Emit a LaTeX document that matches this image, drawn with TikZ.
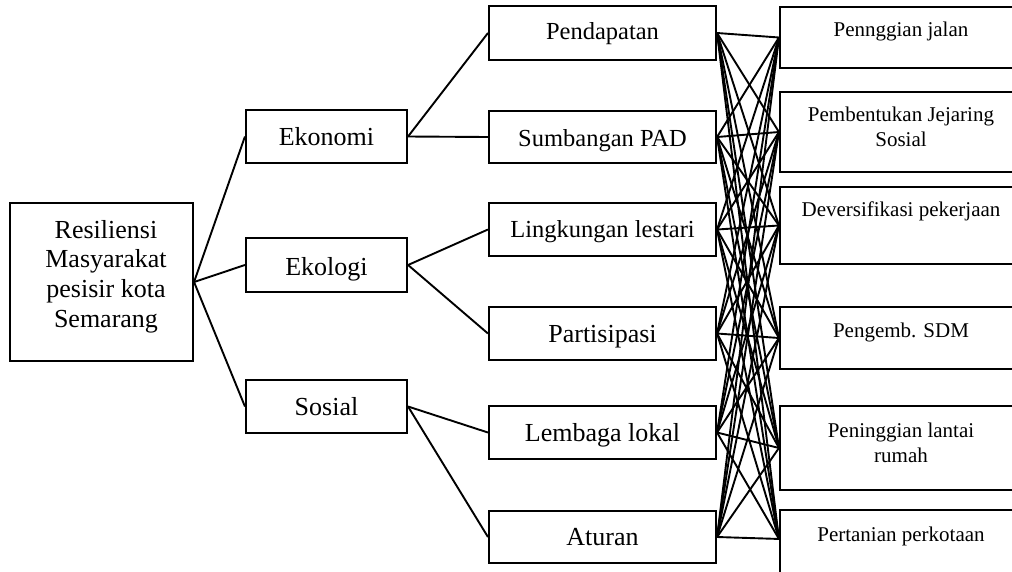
\documentclass[tikz,border=0pt]{standalone}
\usepackage{fontspec}
\setmainfont{Liberation Serif}
\begin{document}
\begin{tikzpicture}[x=1pt,y=-1pt,
  box/.style={draw,line width=2.1pt,inner sep=0pt,rectangle},
  lbl/.style={anchor=base,inner sep=0pt},
  wire/.style={line width=1.9pt},
  big/.style={font=\fontsize{26}{30}\selectfont},
  mid/.style={font=\fontsize{24.5}{28}\selectfont},
  small/.style={font=\fontsize{21}{25}\selectfont}
]
\clip (0,0) rectangle (1012,571);

% root
\node[box,minimum width=183pt,minimum height=158pt] (root) at (101.5,282) {};
\node[lbl,big] (rt1) at (106,238) {Resiliensi};
\node[lbl,big] (rt2) at (106,267.7) {Masyarakat};
\node[lbl,big] (rt3) at (106,297.4) {pesisir kota};
\node[lbl,big] (rt4) at (106,327) {Semarang};

% dimensions
\node[box,minimum width=161pt,minimum height=53pt] (eko) at (326.5,136.5) {};
\node[box,minimum width=161pt,minimum height=54pt] (ekl) at (326.5,265) {};
\node[box,minimum width=161pt,minimum height=53pt] (sos) at (326.5,406.5) {};
\node[lbl,big] (tEko) at (326.5,145.7) {Ekonomi};
\node[lbl,big] (tEkl) at (326.5,275) {Ekologi};
\node[lbl,big] (tSos) at (326.5,415) {Sosial};

% indicators
\node[box,minimum width=227pt,minimum height=54pt] (p1) at (602.5,33) {};
\node[box,minimum width=227pt,minimum height=52pt] (p2) at (602.5,137) {};
\node[box,minimum width=227pt,minimum height=53pt] (p3) at (602.5,229.5) {};
\node[box,minimum width=227pt,minimum height=53pt] (p4) at (602.5,333.5) {};
\node[box,minimum width=227pt,minimum height=53pt] (p5) at (602.5,432.5) {};
\node[box,minimum width=227pt,minimum height=52pt] (p6) at (602.5,537) {};
\node[lbl,mid] (tp1) at (602.5,39.5) {Pendapatan};
\node[lbl,mid] (tp2) at (602.5,146.5) {Sumbangan PAD};
\node[lbl,mid] (tp3) at (602.5,237) {Lingkungan lestari};
\node[lbl,big] (tp4) at (602.5,342.7) {Partisipasi};
\node[lbl,big] (tp5) at (602.5,441.7) {Lembaga lokal};
\node[lbl,big] (tp6) at (602.5,545.7) {Aturan};

% strategies (the last box runs past the lower edge)
\node[box,minimum width=242pt,minimum height=61pt] (r1) at (901,37.5) {};
\node[box,minimum width=242pt,minimum height=80pt] (r2) at (901,132) {};
\node[box,minimum width=242pt,minimum height=77pt] (r3) at (901,225.5) {};
\node[box,minimum width=242pt,minimum height=62pt] (r4) at (901,338) {};
\node[box,minimum width=242pt,minimum height=84pt] (r5) at (901,448) {};
\node[box,minimum width=242pt,minimum height=80pt] (r6) at (901,550) {};
\coordinate (r6in) at ([yshift=-30pt]r6.north west);
\node[lbl,small] (tr1) at (901,36) {Pennggian jalan};
\node[lbl,small] (tr2a) at (901,121.7) {Pembentukan Jejaring};
\node[lbl,small] (tr2b) at (901,146.7) {Sosial};
\node[lbl,small] (tr3) at (901,216.7) {Deversifikasi pekerjaan};
\node[lbl,small] (tr4) at (901,337) {Pengemb. SDM};
\node[lbl,small] (tr5a) at (901,437) {Peninggian lantai};
\node[lbl,small] (tr5b) at (901,462) {rumah};
\node[lbl,small] (tr6) at (901,541) {Pertanian perkotaan};

% tree connectors
\foreach \d in {eko,ekl,sos} \draw[wire] (root.east) -- (\d.west);
\draw[wire] (eko.east) -- (p1.west);
\draw[wire] (eko.east) -- (p2.west);
\draw[wire] (ekl.east) -- (p3.west);
\draw[wire] (ekl.east) -- (p4.west);
\draw[wire] (sos.east) -- (p5.west);
\draw[wire] (sos.east) -- (p6.west);

% every indicator linked to every strategy
\foreach \a in {p1,p2,p3,p4,p5,p6} {
  \foreach \b in {r1,r2,r3,r4,r5}
    \draw[wire] (\a.east) -- (\b.west);
  \draw[wire] (\a.east) -- (r6in);
}
\end{tikzpicture}
\end{document}
